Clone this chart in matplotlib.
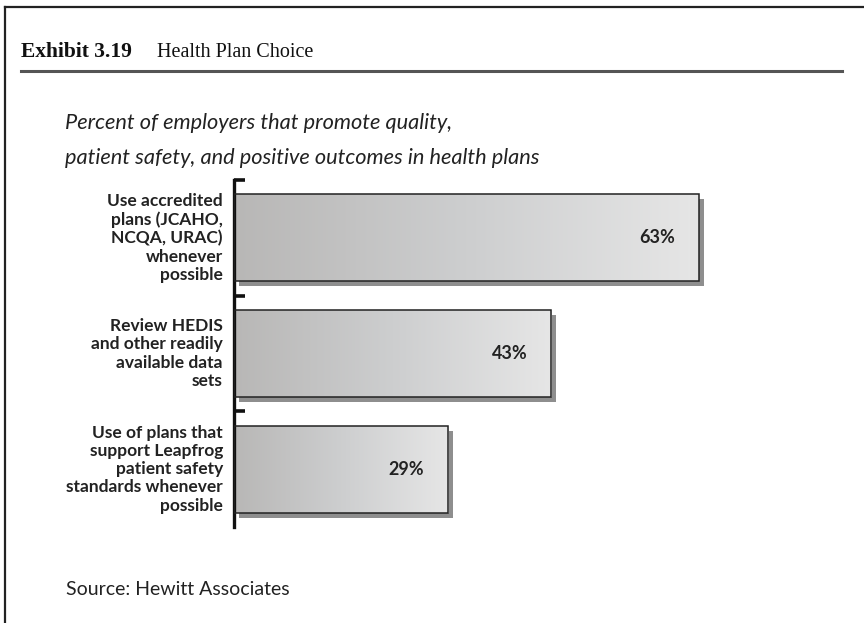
import numpy as np
import matplotlib.pyplot as plt
import matplotlib.transforms as mtransforms
from matplotlib.patches import Rectangle

# health plan choice data
categories = [
    "Use accredited\nplans (JCAHO,\nNCQA, URAC)\nwhenever\npossible",
    "Review HEDIS\nand other readily\navailable data\nsets",
    "Use of plans that\nsupport Leapfrog\npatient safety\nstandards whenever\npossible",
]
percents = [63, 43, 29]
value_labels = ["63%", "43%", "29%"]

W, H = 864, 623
fig = plt.figure(figsize=(W / 100, H / 100), dpi=100)

def fx(px):
    return px / W

def fy(py):
    return 1 - py / H

# frame and header rule
fig.add_artist(plt.Line2D([fx(5), fx(5)], [0, fy(7)], color="#222222", lw=1.6))
fig.add_artist(plt.Line2D([fx(5), 1], [fy(7), fy(7)], color="#222222", lw=1.6))
fig.add_artist(plt.Line2D([fx(21), fx(842)], [fy(71), fy(71)], color="#555555", lw=2.2))

fig.text(fx(21), fy(57), "Exhibit 3.19", fontfamily="Liberation Serif",
         fontweight="bold", fontsize=15.5, va="baseline", color="#111111")
fig.text(fx(157), fy(57), "Health Plan Choice", fontfamily="Liberation Serif",
         fontsize=14.5, va="baseline", color="#111111")

fig.text(fx(65), fy(129), "Percent of employers that promote quality,",
         fontfamily="Lato", style="italic", fontsize=15.7, va="baseline", color="#222222")
fig.text(fx(65), fy(164), "patient safety, and positive outcomes in health plans",
         fontfamily="Lato", style="italic", fontsize=15.7, va="baseline", color="#222222")

fig.text(fx(66), fy(595), "Source: Hewitt Associates", fontfamily="Lato",
         fontsize=14, va="baseline", color="#222222")

# bar chart area
x0, x1 = 234, 234 + 7.38 * 80
y0, y1 = 180, 527
ax = fig.add_axes([fx(x0), fy(y1), fx(x1 - x0), (y1 - y0) / H])

for s in ["top", "right", "bottom"]:
    ax.spines[s].set_visible(False)
ax.spines["left"].set_linewidth(2.4)
ax.spines["left"].set_color("#111111")
ax.set_xticks([])
ax.set_yticks([-0.5, 0.5, 1.5])
ax.set_yticklabels([])
ax.tick_params(axis="y", direction="in", length=8, width=2.6, color="#111111")

bar_h = 0.75
shadow = ax.transData + mtransforms.ScaledTranslation(5 / 100, -5 / 100, fig.dpi_scale_trans)
grad = np.linspace(0, 1, 256).reshape(1, -1)
cmap = plt.matplotlib.colors.LinearSegmentedColormap.from_list(
    "bargrad", ["#b8b7b6", "#cdcecf", "#e6e6e6"])

for i, (v, lab) in enumerate(zip(percents, value_labels)):
    top = i - bar_h / 2
    ax.add_patch(Rectangle((0, top), v, bar_h, transform=shadow,
                           facecolor="#8e8e8e", edgecolor="none", zorder=1))
    ax.imshow(grad, extent=(0, v, i + bar_h / 2, top), aspect="auto",
              cmap=cmap, zorder=2, interpolation="bilinear")
    ax.add_patch(Rectangle((0, top), v, bar_h, facecolor="none",
                           edgecolor="#222222", lw=1.1, zorder=3))
    ax.annotate(lab, xy=(v, i), xytext=(-17, 0), textcoords="offset points",
                ha="right", va="center", fontfamily="Lato", fontweight="bold",
                fontsize=13, color="#222222", zorder=4)

ax.set_xlim(0, 80)
ax.set_ylim(2.5, -0.5)

for i, cat in enumerate(categories):
    ax.annotate(cat, xy=(0, i), xytext=(-8, 0), textcoords="offset points",
                ha="right", va="center", multialignment="right",
                fontfamily="Lato", fontweight="bold", fontsize=12.5,
                linespacing=1.17, color="#222222", annotation_clip=False)

fig.savefig("out.png", dpi=100)
